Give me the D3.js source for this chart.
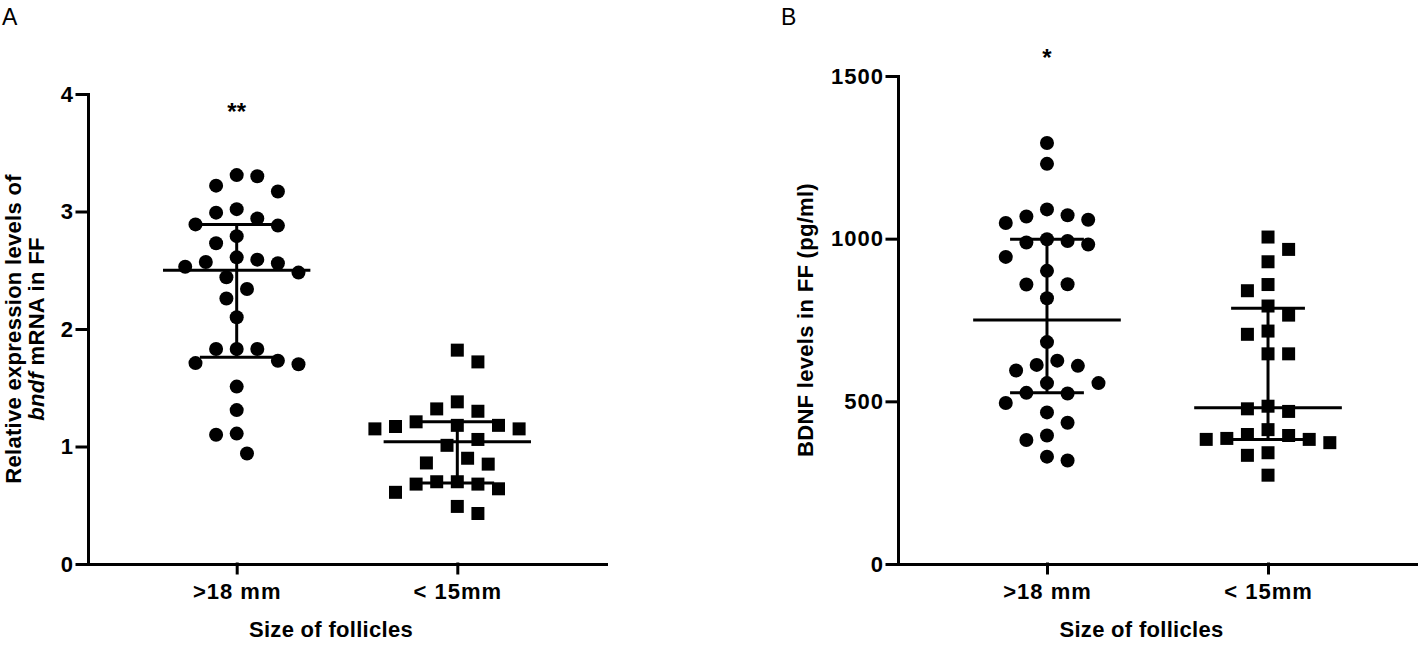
<!DOCTYPE html>
<html>
<head>
<meta charset="utf-8">
<script src="https://cdn.jsdelivr.net/npm/d3@7"></script>
<style>
  body { margin: 0; background: #fff; }
  svg text { font-family: "Liberation Sans", Arial, sans-serif; fill: #000; }
  .tick text { font-weight: bold; font-size: 22px; letter-spacing: 1px; }
  .lab { font-weight: bold; font-size: 22px; letter-spacing: 0.3px; }
  .domain, .tick line { stroke: #000; stroke-width: 3px; stroke-linecap: square; }
</style>
</head>
<body>
<svg id="chart" width="1418" height="645"></svg>
<script>
// Groups (x categories), same for both panels
const groups = [">18 mm", "< 15mm"];

// Panel A: relative bndf mRNA expression in FF
const mrnaLarge = [3.31, 3.30, 3.22, 3.17, 3.02, 2.99, 2.94, 2.89, 2.88, 2.79, 2.73, 2.61, 2.59, 2.57, 2.56, 2.53,
                   2.48, 2.44, 2.34, 2.26, 2.10, 1.83, 1.83, 1.83, 1.73, 1.71, 1.70, 1.51, 1.31, 1.11, 1.10, 0.94];
const mrnaSmall = [1.82, 1.72, 1.38, 1.32, 1.30, 1.21, 1.18, 1.18, 1.17, 1.15, 1.15, 1.06,
                   1.01, 0.90, 0.86, 0.85, 0.70, 0.70, 0.68, 0.68, 0.64, 0.61, 0.49, 0.43];
const mrnaMedian = [2.50, 1.04];
const mrnaQ1 = [1.76, 0.69];
const mrnaQ3 = [2.89, 1.21];
const mrnaTicks = [0, 1, 2, 3, 4];

// Panel B: BDNF levels in FF (pg/ml)
const bdnfLarge = [1294, 1230, 1090, 1072, 1068, 1058, 1048, 998, 993, 988, 982, 944, 901, 860, 859, 817,
                   682, 625, 612, 609, 595, 556, 556, 526, 524, 495, 466, 434, 395, 381, 330, 318];
const bdnfSmall = [1005, 967, 929, 859, 840, 793, 765, 716, 706, 646, 646, 485,
                   477, 469, 413, 398, 395, 386, 383, 383, 373, 342, 334, 273];
const bdnfMedian = [750, 480];
const bdnfQ1 = [526, 383];
const bdnfQ3 = [998, 786];
const bdnfTicks = [0, 500, 1000, 1500];

const svg = d3.select("#chart");
const bottom = 564;

// simple beeswarm: nearest free slot to the column centre, top to bottom
function swarm(values, y, cx, step, minDist) {
    let out = new Array(values.length),
        placed = [],
        flip = 1;
    let order = d3.range(values.length).sort((a, b) => values[b] - values[a]);
    order.forEach(i => {
        let py = y(values[i]);
        for (let k = 0; k < 40; k++) {
            let cands = k === 0 ? [0] : [flip * k, -flip * k];
            let hit = cands.find(s => placed.every(p => Math.hypot(p[0] - (cx + s * step), p[1] - py) >= minDist));
            if (hit !== undefined) {
                if (hit !== 0) flip = -Math.sign(hit);
                let pt = [cx + hit * step, py];
                placed.push(pt);
                out[i] = pt;
                break;
            }
        }
    });
    return out;
}

function panel(p) {
    let x = d3.scalePoint().domain(groups).range(p.xRange).padding(0.674);
    let y = d3.scaleLinear().domain([0, d3.max(p.ticks)]).range([bottom, p.top]);
    let g = svg.append("g");

    g.append("g")
        .attr("transform", `translate(${p.xRange[0]},0)`)
        .call(d3.axisLeft(y).tickValues(p.ticks).tickFormat(d3.format("d"))
            .tickSize(11).tickPadding(3).tickSizeOuter(0));
    g.append("g")
        .attr("transform", `translate(0,${bottom})`)
        .call(d3.axisBottom(x).tickSize(9).tickPadding(10).tickSizeOuter(0));

    const step = 10.3;
    const sym = [d3.symbol().type(d3.symbolCircle).size(Math.PI * 49),
                 d3.symbol().type(d3.symbolSquare).size(13 * 13)];

    p.series.forEach((vals, gi) => {
        let pts = swarm(vals, y, x(groups[gi]), step, 20.5);
        g.append("g")
            .selectAll("path")
            .data(pts)
            .join("path")
            .attr("d", sym[gi])
            .attr("transform", d => `translate(${d[0]},${d[1]})`)
            .attr("fill", "#000");
    });

    // median with interquartile range
    let bw = x.step();
    groups.forEach((grp, gi) => {
        let cx = x(grp);
        let lines = [
            [cx - bw * 0.334, y(p.median[gi]), cx + bw * 0.334, y(p.median[gi])],
            [cx, y(p.q1[gi]), cx, y(p.q3[gi])],
            [cx - bw * 0.167, y(p.q1[gi]), cx + bw * 0.167, y(p.q1[gi])],
            [cx - bw * 0.167, y(p.q3[gi]), cx + bw * 0.167, y(p.q3[gi])]
        ];
        g.selectAll(null)
            .data(lines)
            .join("line")
            .attr("x1", d => d[0]).attr("y1", d => d[1])
            .attr("x2", d => d[2]).attr("y2", d => d[3])
            .attr("stroke", "#000")
            .attr("stroke-width", 3);
    });

    // significance mark
    g.append("text")
        .attr("x", x(groups[0]))
        .attr("y", p.starY)
        .attr("text-anchor", "middle")
        .attr("font-size", 24)
        .attr("font-weight", "bold")
        .text(p.star);

    // axis titles
    let mid = (p.xRange[0] + p.xRange[1]) / 2 - 16;
    g.append("text")
        .attr("class", "lab")
        .attr("x", mid)
        .attr("y", 637)
        .attr("text-anchor", "middle")
        .text("Size of follicles");

    let yMid = (bottom + p.top) / 2;
    p.yTitle.forEach((line, li) => {
        let t = g.append("text")
            .attr("class", "lab")
            .attr("text-anchor", "middle")
            .attr("transform", `translate(${p.yTitleX[li]},${yMid}) rotate(-90)`);
        line.forEach(part => {
            t.append("tspan")
                .attr("font-style", part.italic ? "italic" : null)
                .text(part.text);
        });
    });

    g.append("text")
        .attr("x", p.letterX)
        .attr("y", 25)
        .attr("font-size", 23)
        .text(p.letter);
}

panel({
    letter: "A", letterX: 2,
    xRange: [88, 606], top: 94, ticks: mrnaTicks,
    series: [mrnaLarge, mrnaSmall],
    median: mrnaMedian, q1: mrnaQ1, q3: mrnaQ3,
    star: "**", starY: 120,
    yTitleX: [21, 44],
    yTitle: [[{text: "Relative expression levels of"}],
             [{text: "bndf", italic: true}, {text: " mRNA in FF"}]]
});

panel({
    letter: "B", letterX: 781,
    xRange: [898, 1417], top: 76, ticks: bdnfTicks,
    series: [bdnfLarge, bdnfSmall],
    median: bdnfMedian, q1: bdnfQ1, q3: bdnfQ3,
    star: "*", starY: 66,
    yTitleX: [813],
    yTitle: [[{text: "BDNF levels in FF (pg/ml)"}]]
});
</script>
</body>
</html>
